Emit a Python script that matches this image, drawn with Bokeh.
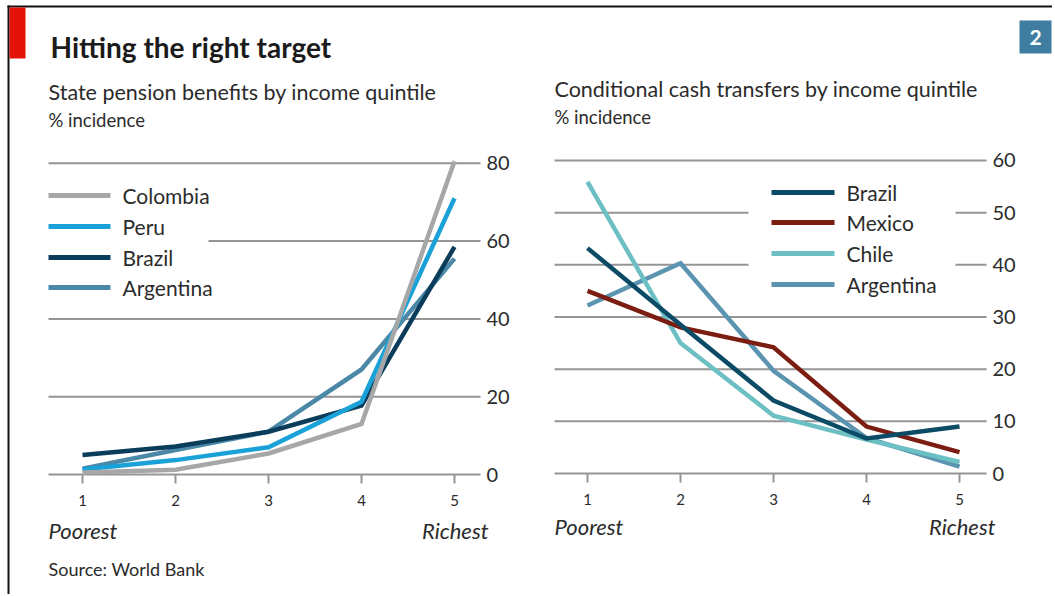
from bokeh.plotting import figure
from bokeh.models import Range1d
from bokeh.core.properties import value
from bokeh.embed import file_html
from bokeh.resources import INLINE

# ---------------- data ----------------
quintiles = [1, 2, 3, 4, 5]
quintile_labels = ["1", "2", "3", "4", "5"]

pension_countries = ["Colombia", "Peru", "Brazil", "Argentina"]
pension_colombia = [0.5, 1.2, 5.4, 13.0, 80.5]
pension_peru = [1.3, 3.7, 7.0, 18.7, 71.0]
pension_brazil = [5.0, 7.2, 11.0, 17.7, 58.5]
pension_argentina = [1.5, 6.3, 11.0, 27.0, 55.5]
pension_ticks = [0, 20, 40, 60, 80]

cct_countries = ["Brazil", "Mexico", "Chile", "Argentina"]
cct_brazil = [43.2, 28.5, 14.0, 6.7, 9.0]
cct_mexico = [35.0, 28.0, 24.2, 9.0, 4.1]
cct_chile = [55.9, 25.0, 11.1, 6.5, 2.2]
cct_argentina = [32.2, 40.3, 19.7, 6.8, 1.3]
cct_ticks = [0, 10, 20, 30, 40, 50, 60]

title_text = "Hitting the right target"
left_subtitle = "State pension benefits by income quintile"
right_subtitle = "Conditional cash transfers by income quintile"
unit_text = "% incidence"
poorest_text = "Poorest"
richest_text = "Richest"
source_text = "Source: World Bank"
chart_number = "2"

# ---------------- styles ----------------
pension_colors = ["#a7a7a7", "#1aa2d8", "#0b3d5b", "#4b87a6"]
cct_colors = ["#0c4b66", "#7b1d10", "#6cbfc3", "#5a94b0"]
grid_color = "#959595"
text_color = "#2b2b2b"
FONT = value("Lato")

# page geometry (figure pixel coordinates)
W, H = 1052, 594

# chart anchors: pixel of quintile 1, pixel per quintile, pixel of zero, pixels per unit
L = dict(qx=82, dq=93, zy=474, du=3.89, gx0=48, gx1=480, lab_x=486)
R = dict(qx=587, dq=93, zy=473, du=5.217, gx0=554, gx1=986, lab_x=992)

p = figure(width=W, height=H,
           x_range=Range1d(0, W), y_range=Range1d(H, 0),
           x_axis_type=None, y_axis_type=None, title=None,
           min_border=0, toolbar_location=None, output_backend="svg",
           outline_line_color=None, background_fill_color="white",
           border_fill_color="white")


def xr(c):
    return Range1d(1 + (0 - c["qx"]) / c["dq"], 1 + (W - c["qx"]) / c["dq"])


def yr(c):
    return Range1d((c["zy"] - H) / c["du"], (c["zy"] - 0) / c["du"])


p.extra_x_ranges = {"L": xr(L), "R": xr(R)}
p.extra_y_ranges = {"L": yr(L), "R": yr(R)}


def txt(x, y, t, size, style="normal", align="left", baseline="middle",
        color=text_color, **kw):
    p.text(x=x, y=y, text=t, text_font=FONT, text_font_size=value(size),
           text_font_style=style, text_align=align, text_baseline=baseline,
           text_color=color, **kw)


# frame decorations
p.segment(x0=[7, 8], y0=[6, 5], x1=[W, 8], y1=[6, H],
          line_color="#111111", line_width=2)
p.quad(left=[9], right=[25], top=[7], bottom=[58], fill_color="#e3120b", line_color=None)
p.quad(left=[1019], right=[1051], top=[20], bottom=[53], fill_color="#3f7ea0", line_color=None)
txt([1035], [37], [chart_number], "21px", style="bold", align="center", color="white")

# titles
txt([50], [46], [title_text], "28px", style="bold", color="#1b1b1b")
txt([48], [91], [left_subtitle], "21.5px")
txt([48], [119], [unit_text], "18.5px")
txt([554], [88], [right_subtitle], "21.5px")
txt([554], [116], [unit_text], "18.5px")


def chart(c, name, ticks, series, colors, countries, gaps, legend):
    # gridlines
    p.segment(x0=[c["gx0"]] * len(ticks), x1=[c["gx1"]] * len(ticks), y0=ticks, y1=ticks,
              y_range_name=name, line_color=grid_color, line_width=2)
    # gridline gaps behind the legend
    for (t, g0, g1) in gaps:
        p.segment(x0=[g0], x1=[g1], y0=[t], y1=[t], y_range_name=name,
                  line_color="white", line_width=4)
    # tick labels
    txt([c["lab_x"]] * len(ticks), ticks, [str(t) for t in ticks], "20px",
        y_range_name=name)
    # x ticks
    p.segment(x0=quintiles, x1=quintiles, y0=[c["zy"]] * 5, y1=[c["zy"] + 9] * 5,
              x_range_name=name, line_color=grid_color, line_width=2)
    txt(quintiles, [c["zy"] + 26] * 5, quintile_labels, "15px", align="center",
        x_range_name=name)
    # series
    for vals, col in series:
        p.line(x=quintiles, y=vals, x_range_name=name, y_range_name=name,
               line_color=col, line_width=4.5, line_join="miter")
    # legend
    lx0, lx1, tx, ys = legend
    p.segment(x0=[lx0] * 4, x1=[lx1] * 4, y0=ys, y1=ys, line_color=colors, line_width=5)
    txt([tx] * 4, ys, countries, "21px")


chart(L, "L", pension_ticks,
      [(pension_argentina, pension_colors[3]), (pension_brazil, pension_colors[2]),
       (pension_peru, pension_colors[1]), (pension_colombia, pension_colors[0])],
      pension_colors, pension_countries,
      gaps=[(60, 46, 208)],
      legend=(48, 110, 122, [195, 226, 257, 287]))

chart(R, "R", cct_ticks,
      [(cct_argentina, cct_colors[3]), (cct_chile, cct_colors[2]),
       (cct_mexico, cct_colors[1]), (cct_brazil, cct_colors[0])],
      cct_colors, cct_countries,
      gaps=[(50, 748, 955), (40, 748, 955)],
      legend=(771, 834, 846, [192, 222, 253, 284]))

# quintile end labels
txt([48], [530], [poorest_text], "22px", style="italic")
txt([488], [530], [richest_text], "22px", style="italic", align="right")
txt([554], [526], [poorest_text], "22px", style="italic")
txt([995], [526], [richest_text], "22px", style="italic", align="right")

# source
txt([48], [568], [source_text], "18px")

open("out.html", "w").write(file_html(p, INLINE))
